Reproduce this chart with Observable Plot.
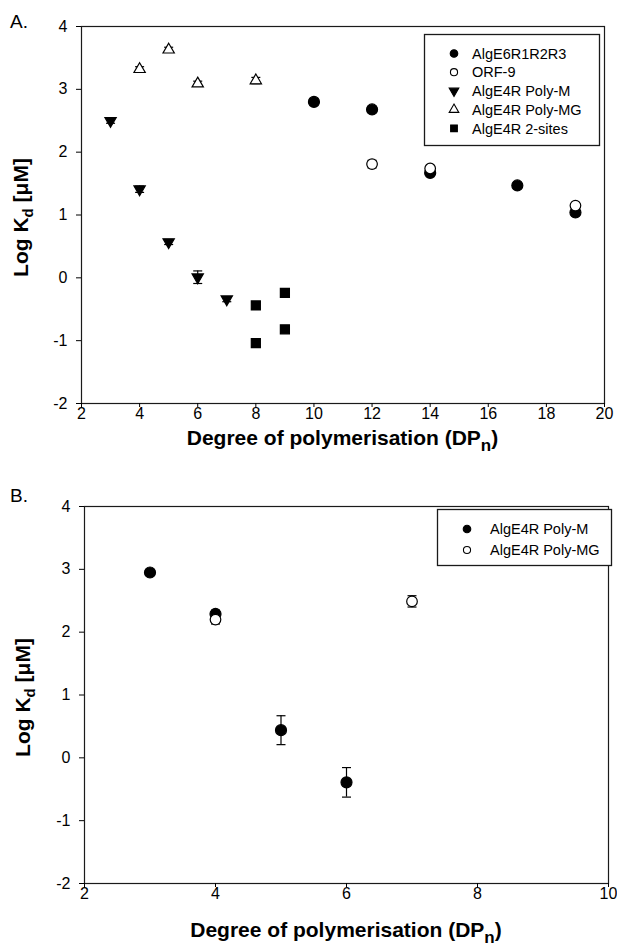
<!DOCTYPE html>
<html>
<head>
<meta charset="utf-8">
<script src="https://cdn.jsdelivr.net/npm/d3@7"></script>
<script src="https://cdn.jsdelivr.net/npm/@observablehq/plot@0.6"></script>
<style>
  html, body { margin: 0; padding: 0; background: #fff; }
  #root { position: relative; width: 617px; height: 948px; overflow: hidden; background: #fff; }
  #root svg { position: absolute; left: 0; overflow: visible; }
</style>
</head>
<body>
<div id="root"></div>
<script>
// ---------- Panel A data ----------
const xTicksA = [2, 4, 6, 8, 10, 12, 14, 16, 18, 20];
const yTicks = [-2, -1, 0, 1, 2, 3, 4];

const e6_dp    = [10, 12, 14, 17, 19];
const e6_logkd = [2.80, 2.68, 1.67, 1.47, 1.04];
const e6_err   = [0.05, 0.05, 0.04, 0.04, 0.04];

const orf9_dp    = [12, 14, 19];
const orf9_logkd = [1.81, 1.74, 1.15];
const orf9_err   = [0.06, 0.04, 0.04];

const e4m_dp    = [3, 4, 5, 6, 7];
const e4m_logkd = [2.50, 1.41, 0.57, 0.01, -0.34];
const e4m_err   = [0.04, 0.05, 0.04, 0.10, 0.04];

const e4mg_dp    = [4, 5, 6, 8];
const e4mg_logkd = [3.32, 3.63, 3.09, 3.14];
const e4mg_err   = [0.04, 0.04, 0.04, 0.05];

const e4two_dp    = [8, 8, 9, 9];
const e4two_logkd = [-0.44, -1.04, -0.24, -0.82];
const e4two_err   = [0.05, 0.05, 0.05, 0.05];

const namesA = ["AlgE6R1R2R3", "ORF-9", "AlgE4R Poly-M", "AlgE4R Poly-MG", "AlgE4R 2-sites"];

// ---------- Panel B data ----------
const xTicksB = [2, 4, 6, 8, 10];

const bM_dp    = [3, 4, 5, 6];
const bM_logkd = [2.95, 2.29, 0.44, -0.39];
const bM_err   = [0.04, 0.06, 0.23, 0.235];

const bMG_dp    = [4, 7];
const bMG_logkd = [2.20, 2.49];
const bMG_err   = [0.07, 0.09];

const namesB = ["AlgE4R Poly-M", "AlgE4R Poly-MG"];

// ---------- symbols ----------
const triangleDown = {
  draw(ctx, size) {
    const y = -Math.sqrt(size / (Math.sqrt(3) * 3));
    ctx.moveTo(0, -2 * y);
    ctx.lineTo(-Math.sqrt(3) * y, y);
    ctx.lineTo(Math.sqrt(3) * y, y);
    ctx.closePath();
  }
};
const capSymbol = {
  draw(ctx, size) {
    ctx.moveTo(-4.5, 0);
    ctx.lineTo(4.5, 0);
  }
};

const FONT = "'Liberation Sans', Arial, Helvetica, sans-serif";

function rows(dp, v, e) {
  return dp.map((d, i) => ({dp: d, v: v[i], lo: v[i] - e[i], hi: v[i] + e[i]}));
}

function styleOf(kind) {
  switch (kind) {
    case "filledCircle": return {symbol: "circle", fill: "black", r: 5.5, d3type: d3.symbolCircle, lsize: 45};
    case "openCircle":   return {symbol: "circle", fill: "white", r: 5.3, d3type: d3.symbolCircle, lsize: 40};
    case "triDown":      return {symbol: triangleDown, fill: "black", r: 4.2, d3type: triangleDown, lsize: 40};
    case "triUp":        return {symbol: "triangle", fill: "white", r: 4.2, d3type: d3.symbolTriangle, lsize: 40};
    case "square":       return {symbol: "square", fill: "black", r: 5.1, d3type: d3.symbolSquare, lsize: 45};
  }
}

function seriesMarks(data, kind) {
  const s = styleOf(kind);
  return [
    Plot.ruleX(data, {x: "dp", y1: "lo", y2: "hi", stroke: "black", strokeWidth: 1.2}),
    Plot.dot(data, {x: "dp", y: "lo", symbol: capSymbol, r: 1, stroke: "black", fill: "none", strokeWidth: 1.2}),
    Plot.dot(data, {x: "dp", y: "hi", symbol: capSymbol, r: 1, stroke: "black", fill: "none", strokeWidth: 1.2}),
    Plot.dot(data, {x: "dp", y: "v", symbol: s.symbol, r: s.r, fill: s.fill, stroke: "black", strokeWidth: 1.2})
  ];
}

function makePanel(cfg) {
  const marks = [
    Plot.frame({stroke: "#1a1a1a", strokeWidth: 1.2}),
    Plot.axisX({ticks: cfg.xTicks, tickSize: 4, tickPadding: 0, label: null, tickFormat: d => String(d)}),
    Plot.axisY({ticks: yTicks, tickSize: 5, tickPadding: 9, label: null, tickFormat: d => String(d)})
  ];
  cfg.series.forEach(s => marks.push(...seriesMarks(s.data, s.kind)));
  const svg = Plot.plot({
    width: 617,
    height: cfg.height,
    marginTop: cfg.mt, marginBottom: cfg.mb, marginLeft: cfg.ml, marginRight: cfg.mr,
    x: {domain: cfg.xDomain},
    y: {domain: [-2, 4]},
    style: {fontFamily: FONT, fontSize: "16px", color: "black", background: "white", overflow: "visible"},
    marks
  });
  svg.style.top = cfg.top + "px";
  const sel = d3.select(svg);
  const plotLeft = cfg.ml, plotRight = 617 - cfg.mr;
  const plotTop = cfg.mt, plotBottom = cfg.height - cfg.mb;

  // panel tag
  sel.append("text").attr("x", 10).attr("y", cfg.tagY).attr("text-anchor", "start")
    .attr("font-family", FONT).attr("font-size", 19).attr("fill", "black").text(cfg.tag);

  // x title
  const xt = sel.append("text")
    .attr("x", (plotLeft + plotRight) / 2).attr("y", cfg.xTitleY)
    .attr("text-anchor", "middle").attr("font-family", FONT)
    .attr("font-weight", "bold").attr("font-size", 21).attr("fill", "black");
  xt.append("tspan").text("Degree of polymerisation (DP");
  xt.append("tspan").attr("dy", 6).attr("font-size", 17).text("n");
  xt.append("tspan").attr("dy", -6).text(")");

  // y title
  const yt = sel.append("text")
    .attr("transform", `translate(${cfg.yTitleX},${(plotTop + plotBottom) / 2 + 3}) rotate(-90)`)
    .attr("text-anchor", "middle").attr("font-family", FONT)
    .attr("font-weight", "bold").attr("font-size", 21).attr("fill", "black");
  yt.append("tspan").text("Log K");
  yt.append("tspan").attr("dy", 5).attr("font-size", 15).text("d");
  yt.append("tspan").attr("dy", -5).text(" [\u03BCM]");

  // legend
  const L = cfg.legend;
  const lg = sel.append("g").attr("text-anchor", "start");
  lg.append("rect").attr("x", L.x).attr("y", L.y).attr("width", L.w).attr("height", L.h)
    .attr("fill", "white").attr("stroke", "#1a1a1a").attr("stroke-width", 1.3);
  cfg.series.forEach((s, i) => {
    const st = styleOf(s.kind);
    const cy = L.row0 + i * L.dy;
    lg.append("path")
      .attr("d", d3.symbol().type(st.d3type).size(st.lsize)())
      .attr("transform", `translate(${L.sx},${cy})`)
      .attr("fill", st.fill).attr("stroke", "black").attr("stroke-width", 1.1);
    lg.append("text").attr("x", L.tx).attr("y", cy).attr("dy", "0.36em")
      .attr("text-anchor", "start")
      .attr("font-family", FONT).attr("font-size", 14.5).attr("fill", "black").text(s.name);
  });
  return svg;
}

const root = document.getElementById("root");

root.appendChild(makePanel({
  tag: "A.", tagY: 28, top: 0, height: 480,
  mt: 26, mb: 77, ml: 81, mr: 13,
  xDomain: [2, 20], xTicks: xTicksA,
  xTitleY: 445, yTitleX: 28,
  series: [
    {name: namesA[0], kind: "filledCircle", data: rows(e6_dp, e6_logkd, e6_err)},
    {name: namesA[1], kind: "openCircle",   data: rows(orf9_dp, orf9_logkd, orf9_err)},
    {name: namesA[2], kind: "triDown",      data: rows(e4m_dp, e4m_logkd, e4m_err)},
    {name: namesA[3], kind: "triUp",        data: rows(e4mg_dp, e4mg_logkd, e4mg_err)},
    {name: namesA[4], kind: "square",       data: rows(e4two_dp, e4two_logkd, e4two_err)}
  ],
  legend: {x: 424.5, y: 34.5, w: 175, h: 111, sx: 454, tx: 472, row0: 53.5, dy: 18.7}
}));

root.appendChild(makePanel({
  tag: "B.", tagY: 22, top: 480, height: 468,
  mt: 26, mb: 65, ml: 84, mr: 9,
  xDomain: [2, 10], xTicks: xTicksB,
  xTitleY: 457, yTitleX: 30,
  series: [
    {name: namesB[0], kind: "filledCircle", data: rows(bM_dp, bM_logkd, bM_err)},
    {name: namesB[1], kind: "openCircle",   data: rows(bMG_dp, bMG_logkd, bMG_err)}
  ],
  legend: {x: 437.5, y: 29.5, w: 174, h: 56, sx: 467, tx: 490, row0: 49, dy: 21}
}));
</script>
</body>
</html>
